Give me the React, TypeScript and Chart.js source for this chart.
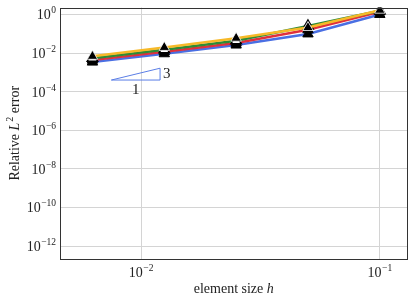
import React, { useEffect, useRef } from "react";
import { Chart, registerables } from "chart.js";

Chart.register(...registerables);

const hValues = [0.1, 0.05, 0.025, 0.0125, 0.00625];
const seriesNames = ["blue", "red", "green", "orange"];
const seriesColors = ["#4a6fe3", "#e0303c", "#2e8b36", "#f7b928"];
const errBlue = [1.0, 0.098, 0.026, 0.0092, 0.0034];
const errRed = [1.37, 0.16, 0.033, 0.0117, 0.0043];
const errGreen = [1.54, 0.25, 0.043, 0.0148, 0.0054];
const errOrange = [1.66, 0.21, 0.059, 0.0196, 0.0068];
const seriesValues = [errBlue, errRed, errGreen, errOrange];

const yTickExps = [0, -2, -4, -6, -8, -10, -12];
const xTickExps = [-2, -1];

const slopeX = [0.0075, 0.012, 0.012, 0.0075];
const slopeY = [4e-4, 4e-4, 1.64e-3, 4e-4];
const slopeLabels = ["3", "1"];

const FONT = "'Liberation Serif', 'DejaVu Serif', serif";

function drawPow(ctx: CanvasRenderingContext2D, exp: number, x: number, y: number, align: "right" | "center") {
  const base = "10";
  const ex = exp < 0 ? "\u2212" + Math.abs(exp) : String(exp);
  ctx.font = `14px ${FONT}`;
  const wb = ctx.measureText(base).width;
  ctx.font = `9.5px ${FONT}`;
  const we = ctx.measureText(ex).width;
  const total = wb + we + 0.5;
  let x0 = align === "right" ? x - total : x - total / 2;
  ctx.textBaseline = "alphabetic";
  ctx.textAlign = "left";
  ctx.font = `14px ${FONT}`;
  ctx.fillText(base, x0, y + 5);
  ctx.font = `9.5px ${FONT}`;
  ctx.fillText(ex, x0 + wb + 0.5, y - 1);
}

const customPlugin = {
  id: "custom",
  afterDraw(chart: any) {
    const ctx: CanvasRenderingContext2D = chart.ctx;
    const { left, right, top, bottom } = chart.chartArea;
    const xs = chart.scales.x;
    const ys = chart.scales.y;
    ctx.save();
    ctx.strokeStyle = "#333333";
    ctx.lineWidth = 1;
    ctx.strokeRect(Math.round(left) + 0.5, Math.round(top) + 0.5, Math.round(right - left) - 1, Math.round(bottom - top) - 1);
    ctx.fillStyle = "#222222";
    yTickExps.forEach((e) => {
      const py = ys.getPixelForValue(Math.pow(10, e));
      drawPow(ctx, e, left - 4, py, "right");
    });
    xTickExps.forEach((e) => {
      const px = xs.getPixelForValue(Math.pow(10, e));
      drawPow(ctx, e, px, bottom + 13, "center");
    });
    ctx.font = `15px ${FONT}`;
    ctx.textAlign = "left";
    ctx.textBaseline = "middle";
    const rx = xs.getPixelForValue(slopeX[1]);
    const ym = (ys.getPixelForValue(slopeY[1]) + ys.getPixelForValue(slopeY[2])) / 2;
    ctx.fillText(slopeLabels[0], rx + 3, ym);
    const mx = Math.sqrt(slopeX[0] * slopeX[1]);
    ctx.textAlign = "center";
    ctx.fillText(slopeLabels[1], xs.getPixelForValue(mx), ys.getPixelForValue(slopeY[0]) + 10);
    ctx.textBaseline = "alphabetic";
    ctx.textAlign = "left";
    ctx.font = `14px ${FONT}`;
    const t1 = "element size ";
    const w1 = ctx.measureText(t1).width;
    ctx.font = `italic 14px ${FONT}`;
    const w2 = ctx.measureText("h").width;
    let sx = (left + right) / 2 - (w1 + w2) / 2;
    ctx.font = `14px ${FONT}`;
    ctx.fillText(t1, sx, 293);
    ctx.font = `italic 14px ${FONT}`;
    ctx.fillText("h", sx + w1, 293);
    ctx.translate(19, (top + bottom) / 2);
    ctx.rotate(-Math.PI / 2);
    ctx.font = `14px ${FONT}`;
    const a = "Relative ";
    const wa = ctx.measureText(a).width;
    ctx.font = `italic 14px ${FONT}`;
    const wl = ctx.measureText("L").width;
    ctx.font = `10px ${FONT}`;
    const w2b = ctx.measureText("2").width;
    ctx.font = `14px ${FONT}`;
    const c = " error";
    const wc = ctx.measureText(c).width;
    const tot = wa + wl + w2b + 1 + wc;
    let cx = -tot / 2;
    ctx.fillText(a, cx, 0);
    cx += wa;
    ctx.font = `italic 14px ${FONT}`;
    ctx.fillText("L", cx, 0);
    cx += wl + 1;
    ctx.font = `10px ${FONT}`;
    ctx.fillText("2", cx, -6);
    cx += w2b;
    ctx.font = `14px ${FONT}`;
    ctx.fillText(c, cx, 0);
    ctx.restore();
  },
};

export default function App() {
  const ref = useRef<HTMLCanvasElement>(null);
  useEffect(() => {
    document.body.style.margin = "0";
    if (!ref.current) return;
    const markerFill = ["#000000", "#000000", "#ffffff", "#000000"];
    const markerBorder = ["#000000", "#000000", "#000000", "#ffffff"];
    const markerBorderW = [1, 1, 1.5, 0.8];
    const datasets: any[] = seriesValues.map((vals, i) => ({
      label: seriesNames[i],
      data: hValues.map((h, j) => ({ x: h, y: vals[j] })),
      showLine: true,
      borderColor: seriesColors[i],
      borderWidth: 2.5,
      pointStyle: "triangle",
      pointRadius: 6,
      pointBackgroundColor: markerFill[i],
      pointBorderColor: markerBorder[i],
      pointBorderWidth: markerBorderW[i],
      order: 4 - i,
    }));
    datasets.push({
      label: "slope",
      data: slopeX.map((x, j) => ({ x, y: slopeY[j] })),
      showLine: true,
      borderColor: "#5b7ee6",
      borderWidth: 1,
      pointRadius: 0,
      order: 10,
    });
    const chart = new Chart(ref.current, {
      type: "scatter",
      data: { datasets },
      options: {
        animation: false,
        responsive: false,
        layout: { padding: { top: 4, right: 4, left: 0, bottom: 0 } },
        plugins: { legend: { display: false }, tooltip: { enabled: false } },
        scales: {
          x: {
            type: "logarithmic",
            min: 0.00457,
            max: 0.1306,
            ticks: { display: false },
            grid: { color: "#d4d4d4", lineWidth: 1, drawTicks: false },
            border: { display: false },
            afterBuildTicks: (s: any) => {
              s.ticks = xTickExps.map((e) => ({ value: Math.pow(10, e) }));
            },
            afterFit: (s: any) => {
              s.height = 38;
            },
          },
          y: {
            type: "logarithmic",
            min: Math.pow(10, -12.67),
            max: Math.pow(10, 0.36),
            ticks: { display: false },
            grid: { color: "#d4d4d4", lineWidth: 1, drawTicks: false },
            border: { display: false },
            afterBuildTicks: (s: any) => {
              s.ticks = yTickExps.map((e) => ({ value: Math.pow(10, e) }));
            },
            afterFit: (s: any) => {
              s.width = 60;
            },
          },
        },
      },
      plugins: [customPlugin],
    } as any);
    return () => chart.destroy();
  }, []);
  return <canvas ref={ref} width={415} height={297} style={{ display: "block" }} />;
}
